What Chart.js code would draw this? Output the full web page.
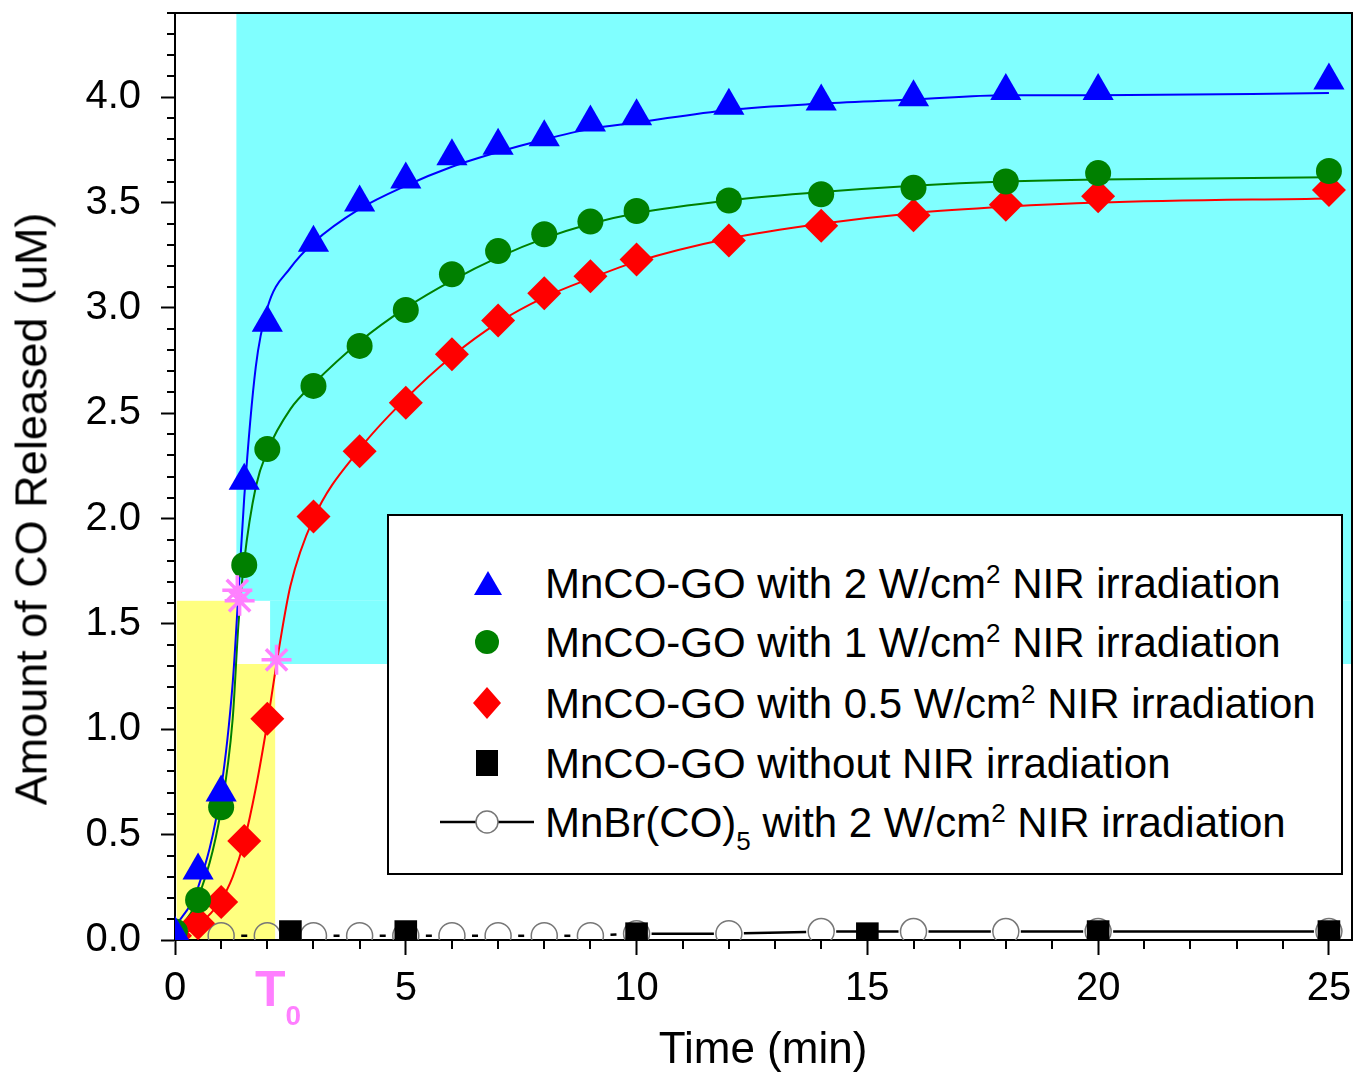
<!DOCTYPE html>
<html>
<head>
<meta charset="utf-8">
<script src="https://cdn.jsdelivr.net/npm/chart.js@4.4.1/dist/chart.umd.min.js"></script>
<style>
  body { margin: 0; background: #fff; }
  #wrap { position: relative; width: 1354px; height: 1074px; font-family: "Liberation Sans", Arial, sans-serif; }
  #chart { position: absolute; left: 0; top: 0; }
  .ytitle { position: absolute; left: 31px; top: 509px; transform: translate(-50%, -50%) rotate(-90deg);
            font-size: 45px; line-height: 45px; white-space: nowrap; color: #000; }
  .xtitle { position: absolute; left: 763px; top: 1026px; transform: translateX(-50%);
            font-size: 44px; line-height: 44px; white-space: nowrap; color: #000; }
  .t0 { position: absolute; left: 255px; top: 964px; font-size: 50px; line-height: 50px; font-weight: bold;
        color: #FF7FFF; white-space: nowrap; }
  .t0 sub { font-size: 28px; vertical-align: -19px; line-height: 0; }
  #legend { position: absolute; left: 387px; top: 514px; width: 956px; height: 361px; box-sizing: border-box;
            border: 2px solid #000; background: #fff; }
  .row { position: absolute; left: 156px; height: 42px; font-size: 42px; line-height: 42px; white-space: nowrap; color: #000; }
  .row sup { font-size: 26px; vertical-align: 15px; line-height: 0; }
  .row sub { font-size: 26px; vertical-align: -13px; line-height: 0; }
  .mk { position: absolute; }
</style>
</head>
<body>
<div id="wrap">
  <canvas id="chart" width="1354" height="1074"></canvas>
  <div class="ytitle">Amount of CO Released (uM)</div>
  <div class="xtitle">Time (min)</div>
  <div class="t0">T<sub>0</sub></div>
  <div id="legend">
    <svg class="mk" style="left:84px;top:53px" width="30" height="28"><polygon points="15,2 29,26 1,26" fill="#0000FF"/></svg>
    <div class="row" style="top:47px">MnCO-GO with 2 W/cm<sup>2</sup> NIR irradiation</div>

    <svg class="mk" style="left:86px;top:114px" width="24" height="24"><circle cx="12" cy="12" r="12" fill="#008000"/></svg>
    <div class="row" style="top:106px">MnCO-GO with 1 W/cm<sup>2</sup> NIR irradiation</div>

    <svg class="mk" style="left:84px;top:171px" width="28" height="32"><polygon points="14,0 28,16 14,32 0,16" fill="#FF0000"/></svg>
    <div class="row" style="top:167px">MnCO-GO with 0.5 W/cm<sup>2</sup> NIR irradiation</div>

    <svg class="mk" style="left:87px;top:234px" width="22" height="26"><rect x="0" y="0" width="22" height="26" fill="#000"/></svg>
    <div class="row" style="top:227px">MnCO-GO without NIR irradiation</div>

    <svg class="mk" style="left:51px;top:294px" width="94" height="24">
      <line x1="0" y1="12" x2="94" y2="12" stroke="#000" stroke-width="2.5"/>
      <circle cx="47" cy="12" r="11" fill="#fff" stroke="#777" stroke-width="1.5"/>
    </svg>
    <div class="row" style="top:286px">MnBr(CO)<sub>5</sub> with 2 W/cm<sup>2</sup> NIR irradiation</div>
  </div>
</div>

<script>
// measured points (min, uM)
const timeMin = [0, 0.5, 1, 1.5, 2, 3, 4, 5, 6, 7, 8, 9, 10, 12, 14, 16, 18, 20, 25];
const co2W  = [0.03, 0.33, 0.70, 2.18, 2.93, 3.31, 3.50, 3.61, 3.72, 3.77, 3.81, 3.88, 3.91, 3.96, 3.98, 4.00, 4.03, 4.03, 4.08];
const co1W  = [0.04, 0.19, 0.63, 1.78, 2.33, 2.63, 2.82, 2.99, 3.16, 3.27, 3.35, 3.41, 3.46, 3.51, 3.54, 3.57, 3.60, 3.64, 3.65];
const co05W = [0.02, 0.08, 0.18, 0.47, 1.05, 2.01, 2.32, 2.55, 2.78, 2.94, 3.07, 3.15, 3.23, 3.32, 3.39, 3.44, 3.49, 3.53, 3.56];

const darkTime = [2.5, 5, 10, 15, 20, 25];
const darkCO   = [0.04, 0.04, 0.03, 0.03, 0.04, 0.04];

const mnbrTime = [0, 1, 2, 3, 4, 5, 6, 7, 8, 9, 10, 12, 14, 16, 18, 20, 25];
const mnbrCO   = [0.02, 0.02, 0.02, 0.02, 0.02, 0.02, 0.02, 0.02, 0.02, 0.02, 0.03, 0.03, 0.04, 0.04, 0.04, 0.04, 0.04];

// fitted curves
const fit2WTime = [0, 0.5, 1, 1.25, 1.375, 1.5, 1.75, 2, 2.5, 3, 4, 5, 6, 7, 8, 9, 10, 12, 14, 16, 18, 20, 25];
const fit2W     = [0.06, 0.25, 0.72, 1.22, 1.65, 2.1, 2.72, 3.0, 3.19, 3.31, 3.47, 3.58, 3.67, 3.74, 3.80, 3.85, 3.88, 3.94, 3.97, 3.99, 4.01, 4.01, 4.02];
const fit1WTime = [0, 0.5, 1, 1.25, 1.375, 1.5, 1.75, 2, 2.5, 3, 4, 5, 6, 7, 8, 9, 10, 12, 14, 16, 18, 20, 25];
const fit1W     = [0.03, 0.2, 0.62, 1.05, 1.5, 1.8, 2.15, 2.32, 2.52, 2.64, 2.84, 3.00, 3.13, 3.24, 3.33, 3.40, 3.45, 3.51, 3.55, 3.58, 3.60, 3.61, 3.62];
const fit05WTime = [0, 0.5, 1, 1.25, 1.5, 1.75, 2, 2.25, 2.5, 3, 4, 5, 6, 7, 8, 9, 10, 12, 14, 16, 18, 20, 25];
const fit05W     = [0.01, 0.07, 0.19, 0.3, 0.47, 0.72, 1.03, 1.38, 1.68, 2.0, 2.33, 2.57, 2.77, 2.93, 3.05, 3.14, 3.22, 3.33, 3.40, 3.45, 3.48, 3.50, 3.52];

// T0 markers
const t0Time = [1.35, 1.40, 2.20];
const t0CO   = [1.66, 1.61, 1.33];

const xTicks = [0, 5, 10, 15, 20, 25];
const yTicks = [0, 0.5, 1.0, 1.5, 2.0, 2.5, 3.0, 3.5, 4.0];

const FONT = "'Liberation Sans', Arial, sans-serif";

function pts(xs, ys) {
  return xs.map((v, i) => ({ x: v, y: ys[i] }));
}

// shaded zones + frame + minor ticks
const decor = {
  id: "decor",
  beforeDraw(chart) {
    const { ctx, scales: { x, y } } = chart;
    function box(x0, x1, y0, y1, color) {
      const l = x.getPixelForValue(x0), r = x.getPixelForValue(x1);
      const t = y.getPixelForValue(y1), b = y.getPixelForValue(y0);
      ctx.fillStyle = color;
      ctx.fillRect(l, t, r - l, b - t);
    }
    ctx.save();
    box(1.33, 25.5, 1.61, 4.4, "#80FFFF");
    box(2.06, 25.5, 1.31, 1.61, "#80FFFF");
    box(0.04, 1.33, 0, 1.61, "#FFFF80");
    box(0.04, 2.17, 0, 1.31, "#FFFF80");
    ctx.restore();
  },
  afterDraw(chart) {
    const { ctx, chartArea: a, scales: { x, y } } = chart;
    ctx.save();
    ctx.strokeStyle = "#000";
    ctx.lineWidth = 2;
    ctx.beginPath();
    for (let v = 1; v <= 25; v++) {
      if (v % 5 === 0) continue;
      const px = Math.round(x.getPixelForValue(v));
      ctx.moveTo(px, a.bottom);
      ctx.lineTo(px, a.bottom + 9);
    }
    for (let i = 1; i <= 44; i++) {
      if (i % 5 === 0) continue;
      const py = Math.round(y.getPixelForValue(i / 10));
      ctx.moveTo(a.left, py);
      ctx.lineTo(a.left - 8, py);
    }
    ctx.moveTo(a.left, a.top);
    ctx.lineTo(a.right, a.top);
    ctx.lineTo(a.right, a.bottom);
    ctx.stroke();
    ctx.restore();
  }
};

new Chart(document.getElementById("chart"), {
  type: "scatter",
  data: {
    datasets: [
      {
        label: "T0",
        data: pts(t0Time, t0CO),
        pointStyle: "star",
        pointRadius: 15,
        borderColor: "#FF80FF",
        borderWidth: 3.5,
        showLine: false,
        order: -1
      },
      {
        label: "MnCO-GO without NIR irradiation",
        data: pts(darkTime, darkCO),
        pointStyle: "rect",
        pointRadius: 16,
        backgroundColor: "#000",
        borderColor: "#000",
        borderWidth: 0,
        showLine: false,
        order: 0
      },
      {
        label: "MnCO-GO with 2 W/cm2 NIR irradiation",
        data: pts(timeMin, co2W),
        pointStyle: "triangle",
        pointRadius: 18,
        backgroundColor: "#0000FF",
        borderWidth: 0,
        showLine: false,
        order: 1
      },
      {
        label: "MnCO-GO with 1 W/cm2 NIR irradiation",
        data: pts(timeMin, co1W),
        pointStyle: "circle",
        pointRadius: 13,
        backgroundColor: "#008000",
        borderWidth: 0,
        showLine: false,
        order: 2
      },
      {
        label: "MnCO-GO with 0.5 W/cm2 NIR irradiation",
        data: pts(timeMin, co05W),
        pointStyle: "rectRot",
        pointRadius: 17,
        backgroundColor: "#FF0000",
        borderWidth: 0,
        showLine: false,
        order: 3
      },
      {
        label: "MnBr(CO)5 with 2 W/cm2 NIR irradiation",
        data: pts(mnbrTime, mnbrCO),
        pointStyle: "circle",
        pointRadius: 13,
        backgroundColor: "rgba(255,255,255,0)",
        pointBorderColor: "#777",
        pointBorderWidth: 1.5,
        borderColor: "#000",
        borderWidth: 2.5,
        showLine: true,
        segment: {
          borderDash: ctx => {
            const len = ctx.p1.x - ctx.p0.x;
            if (ctx.p0.parsed.x < 10) return [0, len / 2 - 3, 6, len / 2 - 3];
            return [0, 15, Math.max(len - 30, 0), 15];
          }
        },
        order: 4
      },
      {
        label: "fit 2W",
        data: pts(fit2WTime, fit2W),
        showLine: true,
        pointRadius: 0,
        borderColor: "#0000FF",
        borderWidth: 2,
        cubicInterpolationMode: "monotone",
        order: 6
      },
      {
        label: "fit 1W",
        data: pts(fit1WTime, fit1W),
        showLine: true,
        pointRadius: 0,
        borderColor: "#008000",
        borderWidth: 2,
        cubicInterpolationMode: "monotone",
        order: 7
      },
      {
        label: "fit 0.5W",
        data: pts(fit05WTime, fit05W),
        showLine: true,
        pointRadius: 0,
        borderColor: "#FF0000",
        borderWidth: 2,
        cubicInterpolationMode: "monotone",
        order: 8
      }
    ]
  },
  options: {
    responsive: false,
    animation: false,
    layout: { autoPadding: false, padding: { top: 13, right: 2, left: 0, bottom: 0 } },
    plugins: {
      legend: { display: false },
      tooltip: { enabled: false }
    },
    scales: {
      x: {
        type: "linear",
        min: 0,
        max: 25.5,
        afterBuildTicks: s => { s.ticks = xTicks.map(v => ({ value: v })); },
        afterFit: s => { s.height = 134; s.paddingLeft = 0; s.paddingRight = 0; },
        ticks: {
          font: { family: FONT, size: 40 },
          color: "#000",
          padding: 10,
          maxRotation: 0,
          autoSkip: false,
          callback: v => String(v)
        },
        grid: { drawOnChartArea: false, tickLength: 15, tickWidth: 2, tickColor: "#000" },
        border: { color: "#000", width: 2 }
      },
      y: {
        min: 0,
        max: 4.4,
        afterBuildTicks: s => { s.ticks = yTicks.map(v => ({ value: v })); },
        afterFit: s => { s.width = 175; s.paddingTop = 0; s.paddingBottom = 0; },
        ticks: {
          font: { family: FONT, size: 40 },
          color: "#000",
          padding: 20,
          autoSkip: false,
          callback: v => Number(v).toFixed(1)
        },
        grid: { drawOnChartArea: false, tickLength: 14, tickWidth: 2, tickColor: "#000" },
        border: { color: "#000", width: 2 }
      }
    }
  },
  plugins: [decor]
});
</script>
</body>
</html>
